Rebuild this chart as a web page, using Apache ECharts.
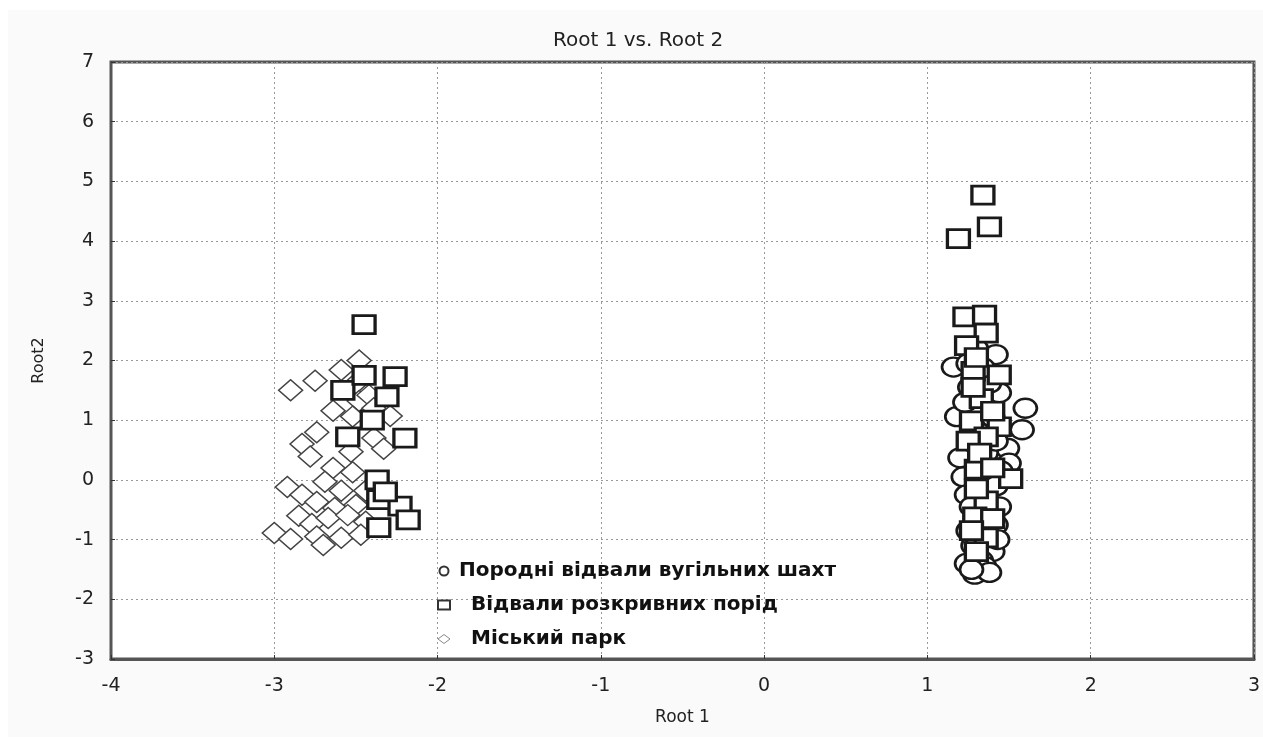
<!DOCTYPE html>
<html>
<head>
<meta charset="utf-8">
<script src="https://cdn.jsdelivr.net/npm/echarts@6/dist/echarts.min.js"></script>
<style>
  html, body { margin: 0; padding: 0; background: #ffffff; }
  #chart { position: absolute; left: 8px; top: 10px; width: 1255px; height: 727px; background: #fafafa; }
</style>
</head>
<body>
<div id="chart"></div>
<script>
// ---- data (Root 1, Root 2) ----
var seriesNames = ['Породні відвали вугільних шахт', 'Відвали розкривних порід', 'Міський парк'];
var xTicks = [-4, -3, -2, -1, 0, 1, 2, 3];
var yTicks = [-3, -2, -1, 0, 1, 2, 3, 4, 5, 6, 7];

// Породні відвали вугільних шахт (circles)
var coalMineDumps = [
  [1.42, 2.10], [1.16, 1.89], [1.25, 1.95], [1.44, 1.46], [1.60, 1.20], [1.58, 0.84],
  [1.18, 1.06], [1.49, 0.53], [1.50, 0.28], [1.20, 0.37], [1.38, 1.62], [1.30, 2.20],
  [1.26, 1.55], [1.40, 1.05], [1.45, 0.15], [1.42, -0.10], [1.22, 0.05], [1.24, -0.25],
  [1.44, -0.45], [1.42, -0.75], [1.25, -0.85], [1.28, -1.10], [1.40, -1.20], [1.33, -1.35],
  [1.24, -1.40], [1.35, -1.45], [1.29, -1.58], [1.38, -1.55], [1.27, -1.50], [1.31, 0.80],
  [1.36, 0.45], [1.23, 1.30], [1.34, 1.88], [1.42, 0.65], [1.27, -0.45], [1.43, -1.00],
  [1.30, -0.95]
];

// Відвали розкривних порід (squares)
var overburdenDumps = [
  [1.34, 4.77], [1.38, 4.24], [1.19, 4.04], [1.23, 2.73], [1.35, 2.76], [1.36, 2.46],
  [1.24, 2.25], [1.28, 1.82], [1.44, 1.76], [1.33, 1.36], [1.27, 0.99], [1.44, 0.89],
  [1.36, 0.72], [1.25, 0.65], [1.30, 0.18], [1.51, 0.02], [1.36, -0.35], [1.29, -0.62],
  [1.36, -0.97], [1.30, -1.20], [1.28, 1.55], [1.40, 1.15], [1.32, 0.45], [1.30, -0.15],
  [1.40, -0.65], [1.27, -0.85], [1.40, 0.20], [1.30, 2.05],
  [-2.45, 2.60], [-2.26, 1.73], [-2.58, 1.50], [-2.31, 1.39], [-2.55, 0.72], [-2.20, 0.70],
  [-2.37, 0.00], [-2.36, -0.33], [-2.23, -0.44], [-2.18, -0.67], [-2.36, -0.80], [-2.40, 1.00],
  [-2.45, 1.75], [-2.32, -0.20]
];

// Міський парк (diamonds)
var cityPark = [
  [-2.90, 1.50], [-2.75, 1.66], [-2.59, 1.84], [-2.48, 2.00], [-2.50, 1.62], [-2.48, 1.32],
  [-2.42, 1.42], [-2.64, 1.16], [-2.52, 1.06], [-2.39, 1.20], [-2.29, 1.07], [-2.74, 0.80],
  [-2.83, 0.60], [-2.78, 0.39], [-2.39, 0.70], [-2.33, 0.52], [-2.53, 0.47], [-2.64, 0.20],
  [-2.52, 0.13], [-2.69, -0.03], [-2.92, -0.12], [-2.83, -0.25], [-2.59, -0.18], [-2.44, -0.18],
  [-2.74, -0.37], [-2.63, -0.47], [-2.50, -0.42], [-2.85, -0.60], [-2.77, -0.74], [-2.67, -0.64],
  [-2.55, -0.59], [-2.44, -0.70], [-3.00, -0.89], [-2.90, -0.99], [-2.74, -0.95], [-2.70, -1.09],
  [-2.59, -0.97], [-2.47, -0.92]
];

var FONT = 'DejaVu Sans';
var chart = echarts.init(document.getElementById('chart'), null, { renderer: 'canvas' });

var option = {
  backgroundColor: '#fafafa',
  animation: false,
  title: {
    text: 'Root 1 vs. Root 2',
    left: 540,
    top: 16,
    textStyle: { fontFamily: FONT, fontSize: 20, fontWeight: 'normal', color: '#222' }
  },
  legend: {
    orient: 'vertical',
    left: 424,
    top: 546,
    itemWidth: 12,
    itemHeight: 9,
    itemGap: 14,
    textStyle: { fontFamily: FONT, fontSize: 20, fontWeight: 'bold', color: '#111', lineHeight: 20 },
    data: [
      { name: seriesNames[0], icon: 'circle', itemStyle: { color: '#fff', borderColor: '#333', borderWidth: 2 }, textStyle: { padding: [0, 0, 0, 4] } },
      { name: seriesNames[1], icon: 'rect', itemStyle: { color: '#fff', borderColor: '#333', borderWidth: 2 }, textStyle: { padding: [0, 0, 0, 16] } },
      { name: seriesNames[2], icon: 'diamond', itemStyle: { color: '#fff', borderColor: '#888', borderWidth: 1 }, textStyle: { padding: [0, 0, 0, 16] } }
    ]
  },
  grid: {
    left: 103, right: 8, top: 52, bottom: 78,
    show: true,
    backgroundColor: '#ffffff',
    borderColor: '#555',
    borderWidth: 3
  },
  xAxis: {
    type: 'value',
    min: xTicks[0],
    max: xTicks[xTicks.length - 1],
    interval: 1,
    name: 'Root 1',
    nameLocation: 'middle',
    nameGap: 50,
    nameTextStyle: { fontFamily: FONT, fontSize: 17, color: '#222' },
    axisLine: { show: true, onZero: false, lineStyle: { color: '#555', width: 3 } },
    axisTick: { show: true, inside: true, length: 4, lineStyle: { color: '#333' } },
    axisLabel: { margin: 18, fontFamily: FONT, fontSize: 19, color: '#222' },
    splitLine: { show: true, lineStyle: { color: '#999', type: [2, 3], width: 1 } }
  },
  yAxis: {
    type: 'value',
    min: yTicks[0],
    max: yTicks[yTicks.length - 1],
    interval: 1,
    name: 'Root2',
    nameLocation: 'middle',
    nameGap: 64,
    nameTextStyle: { fontFamily: FONT, fontSize: 16, color: '#222' },
    axisLine: { show: true, onZero: false, lineStyle: { color: '#555', width: 2 } },
    axisTick: { show: true, inside: true, length: 4, lineStyle: { color: '#333' } },
    axisLabel: { margin: 17, fontFamily: FONT, fontSize: 19, color: '#222' },
    splitLine: { show: true, lineStyle: { color: '#999', type: [2, 3], width: 1 } }
  },
  series: [
    {
      name: seriesNames[0],
      type: 'scatter',
      data: coalMineDumps,
      symbol: 'circle',
      symbolSize: [23, 19],
      z: 3,
      itemStyle: { color: '#fff', borderColor: '#1a1a1a', borderWidth: 2.5, opacity: 1 }
    },
    {
      name: seriesNames[1],
      type: 'scatter',
      data: overburdenDumps,
      symbol: 'rect',
      symbolSize: [22, 18],
      z: 4,
      itemStyle: { color: '#fff', borderColor: '#1a1a1a', borderWidth: 3, opacity: 1 }
    },
    {
      name: seriesNames[2],
      type: 'scatter',
      data: cityPark,
      symbol: 'diamond',
      symbolSize: [24, 21],
      z: 2,
      itemStyle: { color: '#fff', borderColor: '#444', borderWidth: 1.5, opacity: 1 }
    }
  ]
};
chart.setOption(option);
</script>
</body>
</html>
